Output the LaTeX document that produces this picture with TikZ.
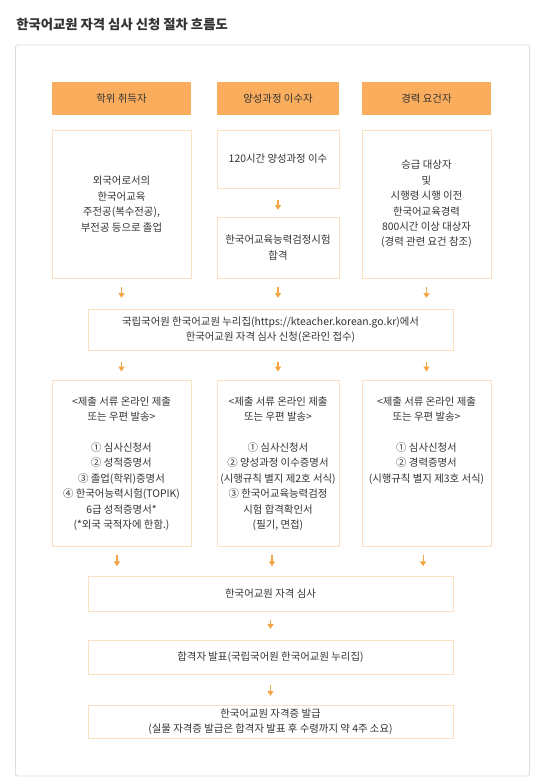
\documentclass[tikz,border=0pt]{standalone}
\usepackage{fontspec}
\setmainfont{Noto Sans CJK KR}
\usetikzlibrary{arrows.meta}
\definecolor{hdrc}{HTML}{FBAD5E}
\definecolor{boxline}{HTML}{FCE0C2}
\definecolor{arrc}{HTML}{F5A443}
\definecolor{framec}{HTML}{DDDDDD}
\definecolor{txtc}{HTML}{333333}
\begin{document}
\begin{tikzpicture}[x=0.75pt,y=-0.75pt,
  box/.style={draw=boxline, line width=0.7pt, fill=white, inner sep=0pt, align=center,
    font=\fontsize{7.8}{11.6}\selectfont, text=txtc},
  hdr/.style={fill=hdrc, draw=none, inner sep=0pt, align=center,
    font=\fontsize{7.8}{11.6}\selectfont, text=txtc},
  txt/.style={inner sep=0pt, align=center, font=\fontsize{7.8}{11.6}\selectfont, text=txtc},
  arr/.style={draw=arrc, line width=0.8pt, -{Triangle[width=4.5pt,length=3.6pt]}}
]
\useasboundingbox (0,0) rectangle (548,783);
\fill[white] (0,0) rectangle (548,783);

% title
\node[anchor=west, inner sep=0pt, text=txtc, font=\fontsize{10}{12}\selectfont\bfseries] (title) at (16,25) {한국어교원 자격 심사 신청 절차 흐름도};

% frame
\node[draw=framec, line width=0.7pt, rounded corners=1.5pt, minimum width=514*0.75pt, minimum height=731*0.75pt, inner sep=0pt] (frame) at (272.5,410.5) {};

% headers
\node[hdr, minimum width=139*0.75pt, minimum height=33*0.75pt] (H1) at (121.5,98.5) {학위 취득자};
\node[hdr, minimum width=122*0.75pt, minimum height=33*0.75pt] (H2) at (278,98.5) {양성과정 이수자};
\node[hdr, minimum width=129*0.75pt, minimum height=33*0.75pt] (H3) at (426.5,98.5) {경력 요건자};

% first row
\node[box, minimum width=139*0.75pt, minimum height=148*0.75pt] (A1) at (121.5,204) {외국어로서의\\한국어교육\\주전공(복수전공),\\부전공 등으로 졸업};
\node[box, minimum width=122*0.75pt, minimum height=58*0.75pt] (A2) at (278,159) {120시간 양성과정 이수};
\node[box, minimum width=122*0.75pt, minimum height=61*0.75pt] (A3) at (278,247.5) {한국어교육능력검정시험\\합격};
\node[box, minimum width=129*0.75pt, minimum height=148*0.75pt] (C1) at (426.5,204) {승급 대상자\\및\\시행령 시행 이전\\한국어교육경력\\800시간 이상 대상자\\(경력 관련 요건 참조)};

% application
\node[box, minimum width=365*0.75pt, minimum height=41*0.75pt] (B) at (270.5,329.5) {국립국어원 한국어교원 누리집(https://kteacher.korean.go.kr)에서\\한국어교원 자격 심사 신청(온라인 접수)};

% documents
\node[box, minimum width=139*0.75pt, minimum height=166*0.75pt] (D1) at (121.5,463) {};
\node[box, minimum width=122*0.75pt, minimum height=166*0.75pt] (D2) at (278,463) {};
\node[box, minimum width=129*0.75pt, minimum height=166*0.75pt] (D3) at (426.5,463) {};
\node[txt, anchor=north] (D1t) at ([yshift=-12.5pt]D1.north) {<제출 서류 온라인 제출\\또는 우편 발송>\\ \\① 심사신청서\\② 성적증명서\\③ 졸업(학위)증명서\\④ 한국어능력시험(TOPIK)\\6급 성적증명서*\\(*외국 국적자에 한함.)};
\node[txt, anchor=north] (D2t) at ([yshift=-12.5pt]D2.north) {<제출 서류 온라인 제출\\또는 우편 발송>\\ \\① 심사신청서\\② 양성과정 이수증명서\\(시행규칙 별지 제2호 서식)\\③ 한국어교육능력검정\\시험 합격확인서\\(필기, 면접)};
\node[txt, anchor=north] (D3t) at ([yshift=-12.5pt]D3.north) {<제출 서류 온라인 제출\\또는 우편 발송>\\ \\① 심사신청서\\② 경력증명서\\(시행규칙 별지 제3호 서식)};

% final steps
\node[box, minimum width=365*0.75pt, minimum height=35*0.75pt] (E) at (270.5,593.5) {한국어교원 자격 심사};
\node[box, minimum width=365*0.75pt, minimum height=34*0.75pt] (F) at (270.5,657) {합격자 발표(국립국어원 한국어교원 누리집)};
\node[box, minimum width=365*0.75pt, minimum height=33*0.75pt] (G) at (270.5,721.5) {한국어교원 자격증 발급\\(실물 자격증 발급은 합격자 발표 후 수령까지 약 4주 소요)};

% arrows
\draw[arr, shorten <=9pt, shorten >=5pt] (A2.south) -- (A3.north);
\draw[arr, shorten <=6.5pt, shorten >=8pt] (A1.south) -- (A1.south |- B.north);
\draw[arr, shorten <=6.5pt, shorten >=8pt] (A3.south) -- (A3.south |- B.north);
\draw[arr, shorten <=6.5pt, shorten >=8pt] (C1.south) -- (C1.south |- B.north);
\draw[arr, shorten <=8.5pt, shorten >=6pt] (D1.north |- B.south) -- (D1.north);
\draw[arr, shorten <=8.5pt, shorten >=6pt] (D2.north |- B.south) -- (D2.north);
\draw[arr, shorten <=8.5pt, shorten >=6pt] (D3.north |- B.south) -- (D3.north);
\draw[arr, shorten <=6.5pt, shorten >=7pt] ([xshift=-3.4pt]D1.south) -- ([xshift=-3.4pt]D1.south |- E.north);
\draw[arr, shorten <=6.5pt, shorten >=7pt] ([xshift=-4.5pt]D2.south) -- ([xshift=-4.5pt]D2.south |- E.north);
\draw[arr, shorten <=6.5pt, shorten >=7pt] ([xshift=-2.6pt]D3.south) -- ([xshift=-2.6pt]D3.south |- E.north);
\draw[arr, shorten <=6.5pt, shorten >=8pt] (E.south) -- (F.north);
\draw[arr, shorten <=8pt, shorten >=6.5pt] (F.south) -- (G.north);
\end{tikzpicture}
\end{document}
